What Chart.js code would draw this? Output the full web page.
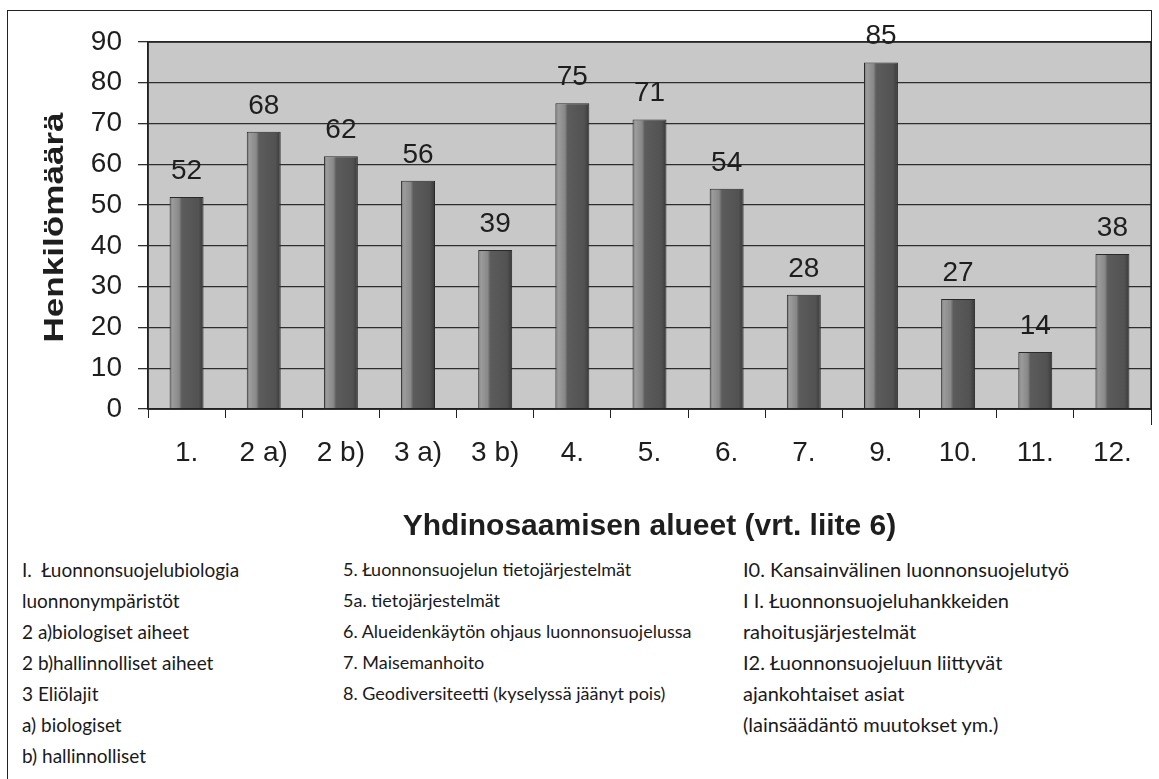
<!DOCTYPE html>
<html><head><meta charset="utf-8">
<script src="https://cdn.jsdelivr.net/npm/chart.js@4/dist/chart.umd.min.js"></script>
<style>
html,body{margin:0;padding:0;background:#fff;width:1159px;height:779px;overflow:hidden;position:relative;}
#wrap{position:absolute;left:0;top:0;width:1159px;height:545px;}
.ln{position:absolute;background:#222;}
.col{position:absolute;top:554px;font-family:Lato,"Open Sans",sans-serif;font-size:19px;line-height:31px;color:#1a1a1a;white-space:nowrap;}
</style></head><body>
<div class="ln" style="left:7px;top:10px;width:1145px;height:1px;"></div>
<div class="ln" style="left:7px;top:10px;width:1px;height:769px;"></div>
<div class="ln" style="left:1151px;top:10px;width:1px;height:415px;"></div>
<div id="wrap"><canvas id="c" width="1159" height="545"></canvas></div>
<div class="col" style="left:22px;">I.&nbsp; Łuonnonsuojelubiologia<br>luonnonympäristöt<br>2 a)biologiset aiheet<br>2 b)hallinnolliset aiheet<br>3 Eliölajit<br>a) biologiset<br>b) hallinnolliset</div>
<div class="col" style="left:343px;font-size:18px;">5. Łuonnonsuojelun tietojärjestelmät<br>5a. tietojärjestelmät<br>6. Alueidenkäytön ohjaus luonnonsuojelussa<br>7. Maisemanhoito<br>8. Geodiversiteetti (kyselyssä jäänyt pois)</div>
<div class="col" style="left:743px;font-size:20px;">I0. Kansainvälinen luonnonsuojelutyö<br>I I. Łuonnonsuojeluhankkeiden<br>rahoitusjärjestelmät<br>I2. Łuonnonsuojeluun liittyvät<br>ajankohtaiset asiat<br>(lainsäädäntö muutokset ym.)</div>
<script>
const categories = ["1.", "2 a)", "2 b)", "3 a)", "3 b)", "4.", "5.", "6.", "7.", "9.", "10.", "11.", "12."];
const values = [52, 68, 62, 56, 39, 75, 71, 54, 28, 85, 27, 14, 38];
const yTicks = [0, 10, 20, 30, 40, 50, 60, 70, 80, 90];
const yTitle = "Henkilömäärä";
const xTitle = "Yhdinosaamisen alueet (vrt. liite 6)";

const BAR_FRAC = 0.44;
const FONT = 'Arial, "Liberation Sans", sans-serif';

const bgPlugin = {
  id: 'bg',
  beforeDraw(chart) {
    const {ctx, chartArea: a} = chart;
    ctx.save();
    ctx.fillStyle = '#c8c8c8';
    ctx.fillRect(a.left, a.top, a.right - a.left, a.bottom - a.top);
    ctx.restore();
  },
  afterDraw(chart) {
    const {ctx, chartArea: a} = chart;
    ctx.save();
    ctx.strokeStyle = '#222';
    ctx.lineWidth = 1.5;
    ctx.strokeRect(a.left, a.top, a.right - a.left, a.bottom - a.top);
    ctx.font = '28px ' + FONT;
    ctx.fillStyle = '#1e1e1e';
    ctx.textAlign = 'center';
    ctx.textBaseline = 'alphabetic';
    const meta = chart.getDatasetMeta(0);
    meta.data.forEach((el, i) => {
      ctx.fillText(String(values[i]), el.x, el.y - 18);
    });
    ctx.translate(63, (a.top + a.bottom) / 2 + 2);
    ctx.rotate(-Math.PI / 2);
    ctx.scale(1.3, 1);
    ctx.font = 'bold 27px ' + FONT;
    ctx.textAlign = 'center';
    ctx.fillText(yTitle, 0, 0);
    ctx.restore();
  }
};

function barFill(ctx) {
  const chart = ctx.chart;
  const xs = chart.scales.x;
  if (!xs || !chart.chartArea || ctx.type !== 'data') return '#5a5a5a';
  const cx = xs.getPixelForValue(ctx.dataIndex);
  const cw = (xs.right - xs.left) / categories.length;
  const w = cw * BAR_FRAC;
  const g = chart.ctx.createLinearGradient(cx - w / 2, 0, cx + w / 2, 0);
  g.addColorStop(0, '#707070');
  g.addColorStop(0.08, '#9c9c9c');
  g.addColorStop(0.28, '#888888');
  g.addColorStop(0.36, '#5c5c5c');
  g.addColorStop(0.85, '#525252');
  g.addColorStop(1, '#383838');
  return g;
}

new Chart(document.getElementById('c'), {
  type: 'bar',
  data: {
    labels: categories,
    datasets: [{
      data: values,
      backgroundColor: barFill,
      borderColor: '#2a2a2a',
      borderWidth: 1,
      categoryPercentage: 1,
      barPercentage: BAR_FRAC
    }]
  },
  plugins: [bgPlugin],
  options: {
    responsive: false,
    animation: false,
    layout: {padding: {top: 42, right: 8, left: 0, bottom: 0}},
    plugins: {legend: {display: false}, tooltip: {enabled: false}},
    scales: {
      x: {
        grid: {display: true, drawOnChartArea: false, drawTicks: true, tickLength: 9, color: '#222', offset: true},
        border: {display: true, color: '#222', width: 1.5},
        ticks: {font: {size: 28, family: FONT}, color: '#1e1e1e', padding: 18, maxRotation: 0, autoSkip: false},
        title: {display: true, text: xTitle, font: {size: 30, weight: 'bold', family: FONT}, color: '#1e1e1e', padding: {top: 17, bottom: 0}},
        afterFit(s) { s.height = 545 - 409; }
      },
      y: {
        min: 0, max: 90,
        afterBuildTicks(s) { s.ticks = yTicks.map(v => ({value: v})); },
        grid: {color: '#2e2e2e', lineWidth: 1.3, tickLength: 10, drawTicks: true},
        border: {display: true, color: '#222', width: 1.5},
        ticks: {font: {size: 28, family: FONT}, color: '#1e1e1e', padding: 16},
        title: {display: false},
        afterFit(s) { s.width = 148; }
      }
    }
  }
});
</script>
</body></html>
